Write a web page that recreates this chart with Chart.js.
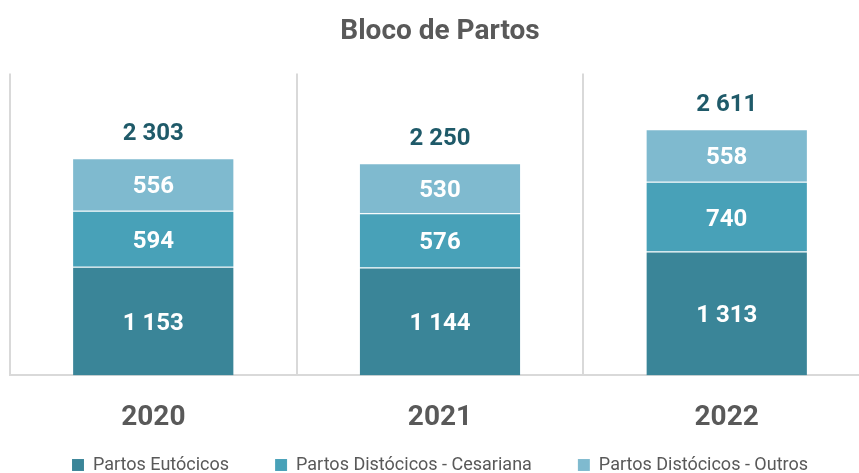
<!DOCTYPE html>
<html>
<head>
<meta charset="utf-8">
<script src="https://cdn.jsdelivr.net/npm/chart.js@4.4.1/dist/chart.umd.min.js"></script>
<style>
  html, body { margin: 0; padding: 0; background: #fff; overflow: hidden; }
  canvas { display: block; }
</style>
</head>
<body>
<canvas id="myChart" width="870" height="473"></canvas>
<script>
const years = ['2020', '2021', '2022'];
const eutocicos = [1153, 1144, 1313];
const cesariana = [594, 576, 740];
const outros = [556, 530, 558];
const seriesNames = ['Partos Eutócicos', 'Partos Distócicos - Cesariana', 'Partos Distócicos - Outros'];

const FONT = 'Roboto, "Liberation Sans", sans-serif';

// formata 2303 -> "2 303"
function fmt(v) {
  return String(v).replace(/\B(?=(\d{3})+(?!\d))/g, ' ');
}

// escreve os valores dentro das barras e o total por cima
const labelsPlugin = {
  id: 'barLabels',
  beforeLayout(chart) {
    // legenda ocupa menos altura no layout
    const lg = chart.legend;
    if (lg && !lg._baixa) {
      const fit = lg.fit;
      lg.fit = function () {
        fit.call(this);
        this.height = 12;
      };
      lg._baixa = true;
    }
  },
  afterLayout(chart) {
    const lg = chart.legend;
    lg.top = chart.height - 63;
    lg.bottom = chart.height;
    lg.height = 63;
  },
  afterDatasetsDraw(chart) {
    const c = chart.ctx;
    c.save();
    c.textAlign = 'center';
    c.textBaseline = 'middle';
    c.font = 'bold 24px ' + FONT;
    c.fillStyle = '#ffffff';
    chart.data.datasets.forEach((ds, i) => {
      chart.getDatasetMeta(i).data.forEach((bar, j) => {
        const mid = (bar.y + bar.base) / 2;
        c.fillText(fmt(ds.data[j]), bar.x, mid + 3);
      });
    });
    const last = chart.getDatasetMeta(chart.data.datasets.length - 1);
    c.fillStyle = '#1f5a69';
    last.data.forEach((bar, j) => {
      const total = eutocicos[j] + cesariana[j] + outros[j];
      c.fillText(fmt(total), bar.x, bar.y - 24);
    });
    c.restore();
  }
};

const data = {
  labels: years,
  datasets: [
    { label: seriesNames[0], data: eutocicos, backgroundColor: '#3a8598' },
    { label: seriesNames[1], data: cesariana, backgroundColor: '#48a1b8' },
    { label: seriesNames[2], data: outros, backgroundColor: '#7fbacf' }
  ].map(d => Object.assign(d, {
    borderColor: 'rgba(255,255,255,0.25)',
    borderWidth: { top: 1, bottom: 0, left: 0, right: 0 },
    borderSkipped: false,
    barPercentage: 0.7,
    categoryPercentage: 0.8
  }))
};

const config = {
  type: 'bar',
  data: data,
  options: {
    responsive: false,
    animation: false,
    layout: { padding: { left: 10, right: 0, top: 0, bottom: 0 } },
    plugins: {
      title: {
        display: true,
        text: 'Bloco de Partos',
        color: '#595959',
        font: { family: FONT, size: 28, weight: 'bold' },
        padding: { top: 15, bottom: 25 }
      },
      legend: {
        position: 'bottom',
        labels: {
          color: '#595959',
          font: { family: FONT, size: 18 },
          boxWidth: 12,
          boxHeight: 12,
          padding: 46
        }
      },
      tooltip: { enabled: false }
    },
    scales: {
      x: {
        stacked: true,
        grid: { display: true, offset: true, color: '#d9d9d9', lineWidth: 2, drawTicks: false },
        border: { display: true, color: '#d9d9d9', width: 2 },
        ticks: {
          color: '#595959',
          padding: 26,
          font: { family: FONT, size: 28, weight: 'bold' }
        }
      },
      y: {
        stacked: true,
        min: 0,
        max: 3200,
        display: false
      }
    }
  },
  plugins: [labelsPlugin]
};

new Chart(document.getElementById('myChart').getContext('2d'), config);
</script>
</body>
</html>
